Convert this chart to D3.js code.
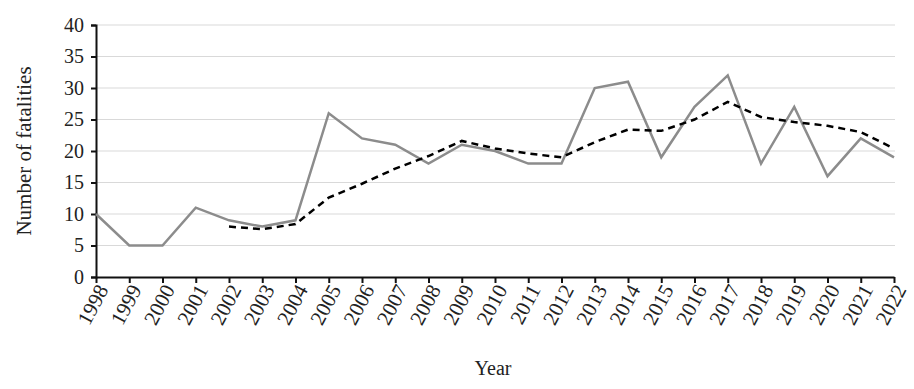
<!DOCTYPE html>
<html>
<head>
<meta charset="utf-8">
<script src="https://cdn.jsdelivr.net/npm/d3@7"></script>
<style>
  body { margin: 0; background: #fff; }
  text { font-family: "Liberation Serif", "Times New Roman", serif; fill: #222; }
</style>
</head>
<body>
<svg width="914" height="389"></svg>
<script>
// years along the x axis
var years = [1998, 1999, 2000, 2001, 2002, 2003, 2004, 2005, 2006, 2007, 2008, 2009,
             2010, 2011, 2012, 2013, 2014, 2015, 2016, 2017, 2018, 2019, 2020, 2021, 2022];

// yearly fatalities (solid grey line)
var fatalities = [10, 5, 5, 11, 9, 8, 9, 26, 22, 21, 18, 21, 20, 18, 18, 30, 31, 19, 27, 32, 18, 27, 16, 22, 19];

// trend line (dashed), starts at 2002
var trendYears = [2002, 2003, 2004, 2005, 2006, 2007, 2008, 2009, 2010, 2011, 2012,
                  2013, 2014, 2015, 2016, 2017, 2018, 2019, 2020, 2021, 2022];
var trend = [8, 7.6, 8.4, 12.6, 14.8, 17.2, 19.2, 21.6, 20.4, 19.6, 19,
             21.4, 23.4, 23.2, 25, 27.8, 25.4, 24.6, 24, 23, 20.4];

var yTicks = [0, 5, 10, 15, 20, 25, 30, 35, 40];

var svg = d3.select("svg");

var x = d3.scalePoint().domain(years).range([96, 894]);
var y = d3.scaleLinear().domain([0, 40]).range([277, 25]);

// horizontal grid
svg.append("g")
  .selectAll("line")
  .data(yTicks.slice(1))
  .enter().append("line")
    .attr("x1", 96).attr("x2", 895)
    .attr("y1", function(d) { return y(d); })
    .attr("y2", function(d) { return y(d); })
    .attr("stroke", "#d9d9d9")
    .attr("stroke-width", 1.2);

// y axis
var yAxis = svg.append("g")
    .attr("transform", "translate(96,0)")
    .call(d3.axisLeft(y).tickValues(yTicks).tickSize(5).tickPadding(7));
yAxis.select(".domain").attr("stroke", "#111").attr("stroke-width", 2);
yAxis.selectAll(".tick line").attr("stroke", "#111").attr("stroke-width", 2);
yAxis.selectAll("text").style("font-size", "20px");

// x axis
var xAxis = svg.append("g")
    .attr("transform", "translate(0,277)")
    .call(d3.axisBottom(x).tickSize(6).tickSizeOuter(0));
xAxis.select(".domain").attr("stroke", "#111").attr("stroke-width", 2);
xAxis.selectAll(".tick line").attr("stroke", "#111").attr("stroke-width", 2);
xAxis.selectAll("text")
    .style("font-size", "21px")
    .attr("text-anchor", "end")
    .attr("dy", "0.35em")
    .attr("transform", "translate(6,9) rotate(-62)")
    .attr("x", 0).attr("y", 0);

// lines
var line = d3.line()
    .x(function(d) { return x(d[0]); })
    .y(function(d) { return y(d[1]); });

svg.append("path")
    .datum(d3.zip(years, fatalities))
    .attr("fill", "none")
    .attr("stroke", "#8c8c8c")
    .attr("stroke-width", 2.5)
    .attr("d", line);

svg.append("path")
    .datum(d3.zip(trendYears, trend))
    .attr("fill", "none")
    .attr("stroke", "#000")
    .attr("stroke-width", 2.5)
    .attr("stroke-dasharray", "7,5")
    .attr("d", line);

// axis titles
svg.append("text")
    .attr("transform", "translate(31,151) rotate(-90)")
    .attr("text-anchor", "middle")
    .style("font-size", "21px")
    .text("Number of fatalities");

svg.append("text")
    .attr("x", 493).attr("y", 375)
    .attr("text-anchor", "middle")
    .style("font-size", "20px")
    .text("Year");
</script>
</body>
</html>
